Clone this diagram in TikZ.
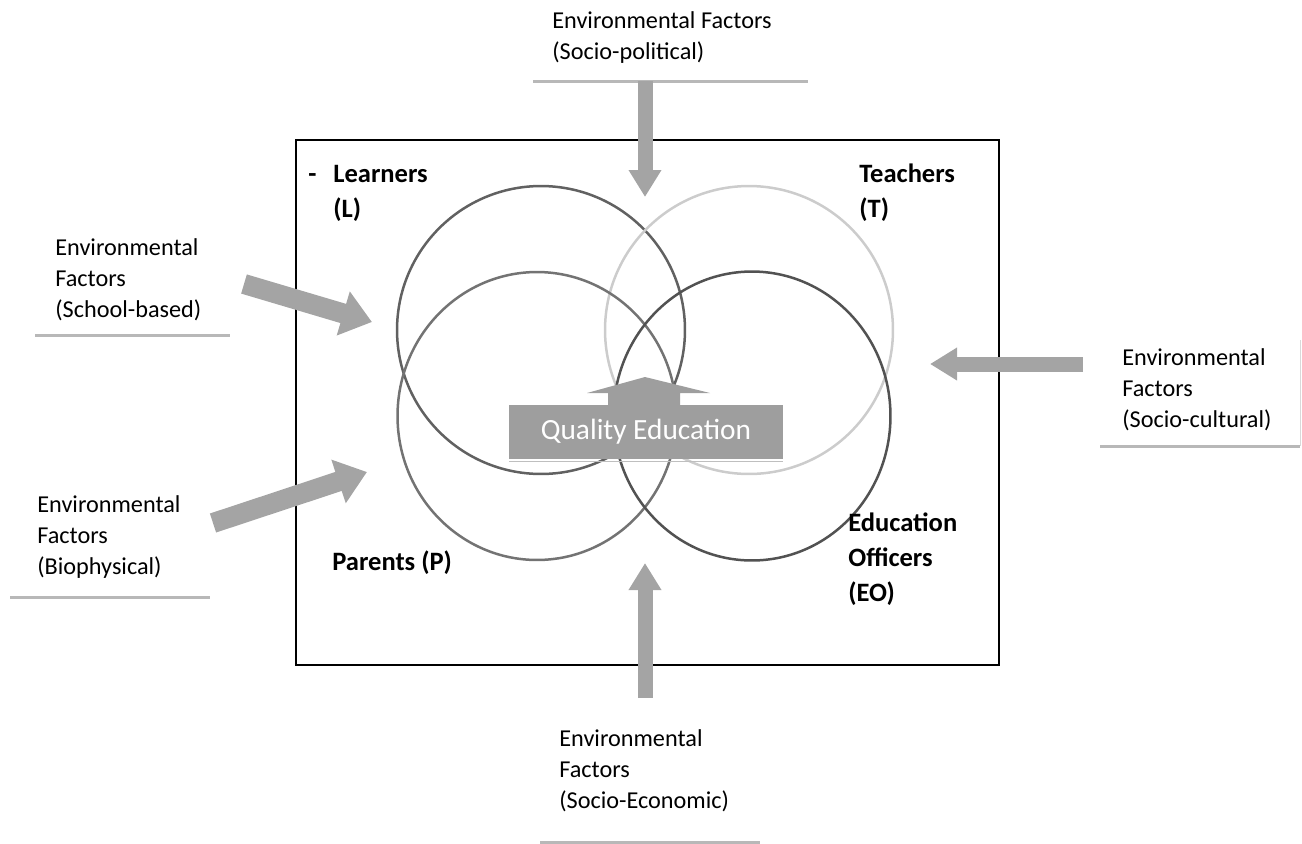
\documentclass[tikz,border=0pt]{standalone}
\usepackage{fontspec}
\setmainfont{Carlito}
\usetikzlibrary{arrows.meta,shapes.geometric}

\definecolor{arrowgray}{HTML}{A4A4A4}
\definecolor{boxgray}{HTML}{9E9E9E}
\tikzset{
  factor/.style={align=left,inner sep=0pt,anchor=base west,font=\fontsize{13.8}{17.6}\selectfont},
  actor/.style={align=left,inner sep=0pt,anchor=base west,font=\fontsize{15.1}{19.8}\selectfont\bfseries},
  ring/.style={draw=#1,line width=0.05cm,inner sep=0pt},
  flow/.style={draw=arrowgray,line width=0.3cm,-{Triangle[length=0.54cm,width=0.62cm]}},
  wideflow/.style={draw=arrowgray,line width=0.4cm,-{Triangle[length=0.6cm,width=0.88cm]}},
  shade/.style={draw=black!28,line width=0.06cm}
}

\begin{document}
\begin{tikzpicture}[x=0.02cm,y=-0.02cm]
\useasboundingbox (0,0) rectangle (1302,843);
\draw[line width=0.03cm](296,140)rectangle(999,665);
% the four groups
\node[ring=black!62,circle,minimum size=5.76cm](cL) at (541,330){};
\node[ring=black!20,circle,minimum size=5.76cm](cT) at (749,330){};
\node[ring=black!55,ellipse,minimum width=5.58cm,minimum height=5.76cm](cP) at (537,416){};
\node[ring=black!68,ellipse,minimum width=5.54cm,minimum height=5.78cm](cEO) at (752,416){};
% centre box
\fill[boxgray](608,406)--(608,393)--(587,393)--(645,377)--(710,393)--(680,393)--(680,406)--cycle;
\node[fill=boxgray,minimum width=5.48cm,minimum height=1.08cm,text=white,font=\fontsize{16.7}{20}\selectfont](quality) at (646,432){Quality Education};
\draw[black!25](509,461)--(783,461);
% labels (base = last line)
\node[actor](dash) at (308,182){-};
\node[actor](learners) at (333,217){Learners\\(L)};
\node[actor](teachers) at (859,217){Teachers\\(T)};
\node[actor](parents) at (332,570){Parents (P)};
\node[actor](officers) at (848,601){Education\\Officers\\(EO)};
% environmental factors
\node[factor](political) at (552,59){Environmental Factors\\(Socio-political)};
\node[factor](school) at (55,317){Environmental\\Factors\\(School-based)};
\node[factor](bio) at (37,574){Environmental\\Factors\\(Biophysical)};
\node[factor](cultural) at (1122,427){Environmental\\Factors\\(Socio-cultural)};
\node[factor](economic) at (559,808){Environmental\\Factors\\(Socio-Economic)};
\draw[shade](533,81)--(808,81);
\draw[shade](35,335)--(230,335);
\draw[shade](10,597)--(210,597);
\draw[shade](1100,446)--(1300,446);
\draw[black!15](1300,340)--(1300,446);
\draw[shade](540,842)--(760,842);
% arrows
\coordinate(pt) at (645,81);\coordinate(ph) at (645,197);
\coordinate(et) at (645,698);\coordinate(eh) at (645,563);
\coordinate(ct) at (1083,364);\coordinate(ch) at (930,364);
\coordinate(st) at (244,284);\coordinate(sh) at (372,322);
\coordinate(bt) at (213,523);\coordinate(bh) at (367,472);
\draw[flow](pt)--(ph);
\draw[flow](et)--(eh);
\draw[flow](ct)--(ch);
\draw[wideflow](st)--(sh);
\draw[wideflow](bt)--(bh);
\end{tikzpicture}
\end{document}
